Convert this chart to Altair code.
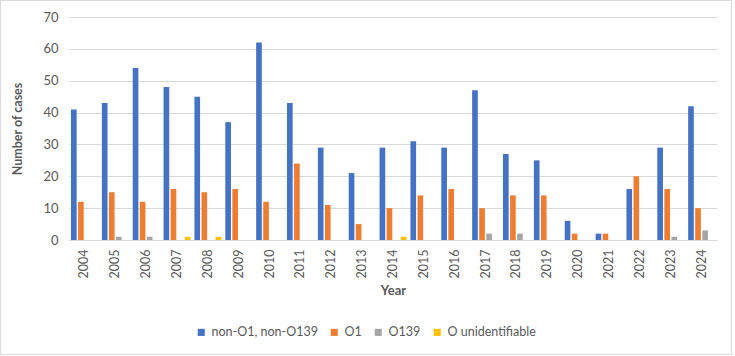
import altair as alt
import pandas as pd

years = [str(y) for y in range(2004, 2025)]
non_o1_non_o139 = [41, 43, 54, 48, 45, 37, 62, 43, 29, 21, 29, 31, 29, 47, 27, 25, 6, 2, 16, 29, 42]
o1 = [12, 15, 12, 16, 15, 16, 12, 24, 11, 5, 10, 14, 16, 10, 14, 14, 2, 2, 20, 16, 10]
o139 = [0, 1, 1, 0, 0, 0, 0, 0, 0, 0, 0, 0, 0, 2, 2, 0, 0, 0, 0, 1, 3]
o_unident = [0, 0, 0, 1, 1, 0, 0, 0, 0, 0, 1, 0, 0, 0, 0, 0, 0, 0, 0, 0, 0]

series_names = ["non-O1, non-O139", "O1", "O139", "O unidentifiable"]
series_colors = ["#4472C4", "#ED7D31", "#A5A5A5", "#FFC000"]

rows = []
for name, vals in zip(series_names, [non_o1_non_o139, o1, o139, o_unident]):
    for yr, v in zip(years, vals):
        rows.append({"Year": yr, "Series": name, "Cases": v})
df = pd.DataFrame(rows)

FONT = "Lato"
GREY = "#595959"

bars = alt.Chart(df).mark_bar().encode(
    x=alt.X("Year:N", sort=years,
            scale=alt.Scale(paddingInner=0.13, paddingOuter=0.065),
            axis=alt.Axis(title="Year", labelAngle=-90, labelAlign="right", labelBaseline="middle",
                          labelPadding=9, labelFontSize=12.5, labelColor=GREY, labelFont=FONT,
                          titleFont=FONT, titleFontSize=13, titleFontWeight="bold", titleColor=GREY,
                          titlePadding=7, ticks=False, domainColor="#D9D9D9", grid=False)),
    xOffset=alt.XOffset("Series:N", sort=series_names, scale=alt.Scale(paddingInner=0.2)),
    y=alt.Y("Cases:Q", scale=alt.Scale(domain=[0, 70]),
            axis=alt.Axis(title="Number of cases", values=[0, 10, 20, 30, 40, 50, 60, 70],
                          labelFontSize=13, labelColor=GREY, labelFont=FONT, labelPadding=11,
                          titleFont=FONT, titleFontSize=12.5, titleFontWeight="bold", titleColor=GREY,
                          titlePadding=18, domain=False, ticks=False,
                          gridColor="#D9D9D9", gridWidth=1)),
    color=alt.Color("Series:N", sort=series_names,
                    scale=alt.Scale(domain=series_names, range=series_colors),
                    legend=alt.Legend(title=None, orient="none", direction="horizontal",
                                      legendX=126, legendY=309, symbolType="square", symbolSize=50,
                                      labelFontSize=12.5, labelFont=FONT, labelColor=GREY,
                                      columnPadding=10, symbolStrokeWidth=0)),
)

border = alt.Chart(pd.DataFrame({"a": [0]})).mark_rect(
    fill=None, stroke="#D9D9D9", strokeWidth=1
).encode(x=alt.value(-68.5), x2=alt.value(662.5), y=alt.value(-16.5), y2=alt.value(337.5))

chart = alt.layer(bars, border).properties(
    width=648, height=223,
    autosize=alt.AutoSizeParams(type="none"),
    padding={"left": 69, "top": 17, "right": 18, "bottom": 116},
    background="white",
).configure_view(stroke=None)

chart.save("out.html", embed_options={"renderer": "svg", "actions": False})
